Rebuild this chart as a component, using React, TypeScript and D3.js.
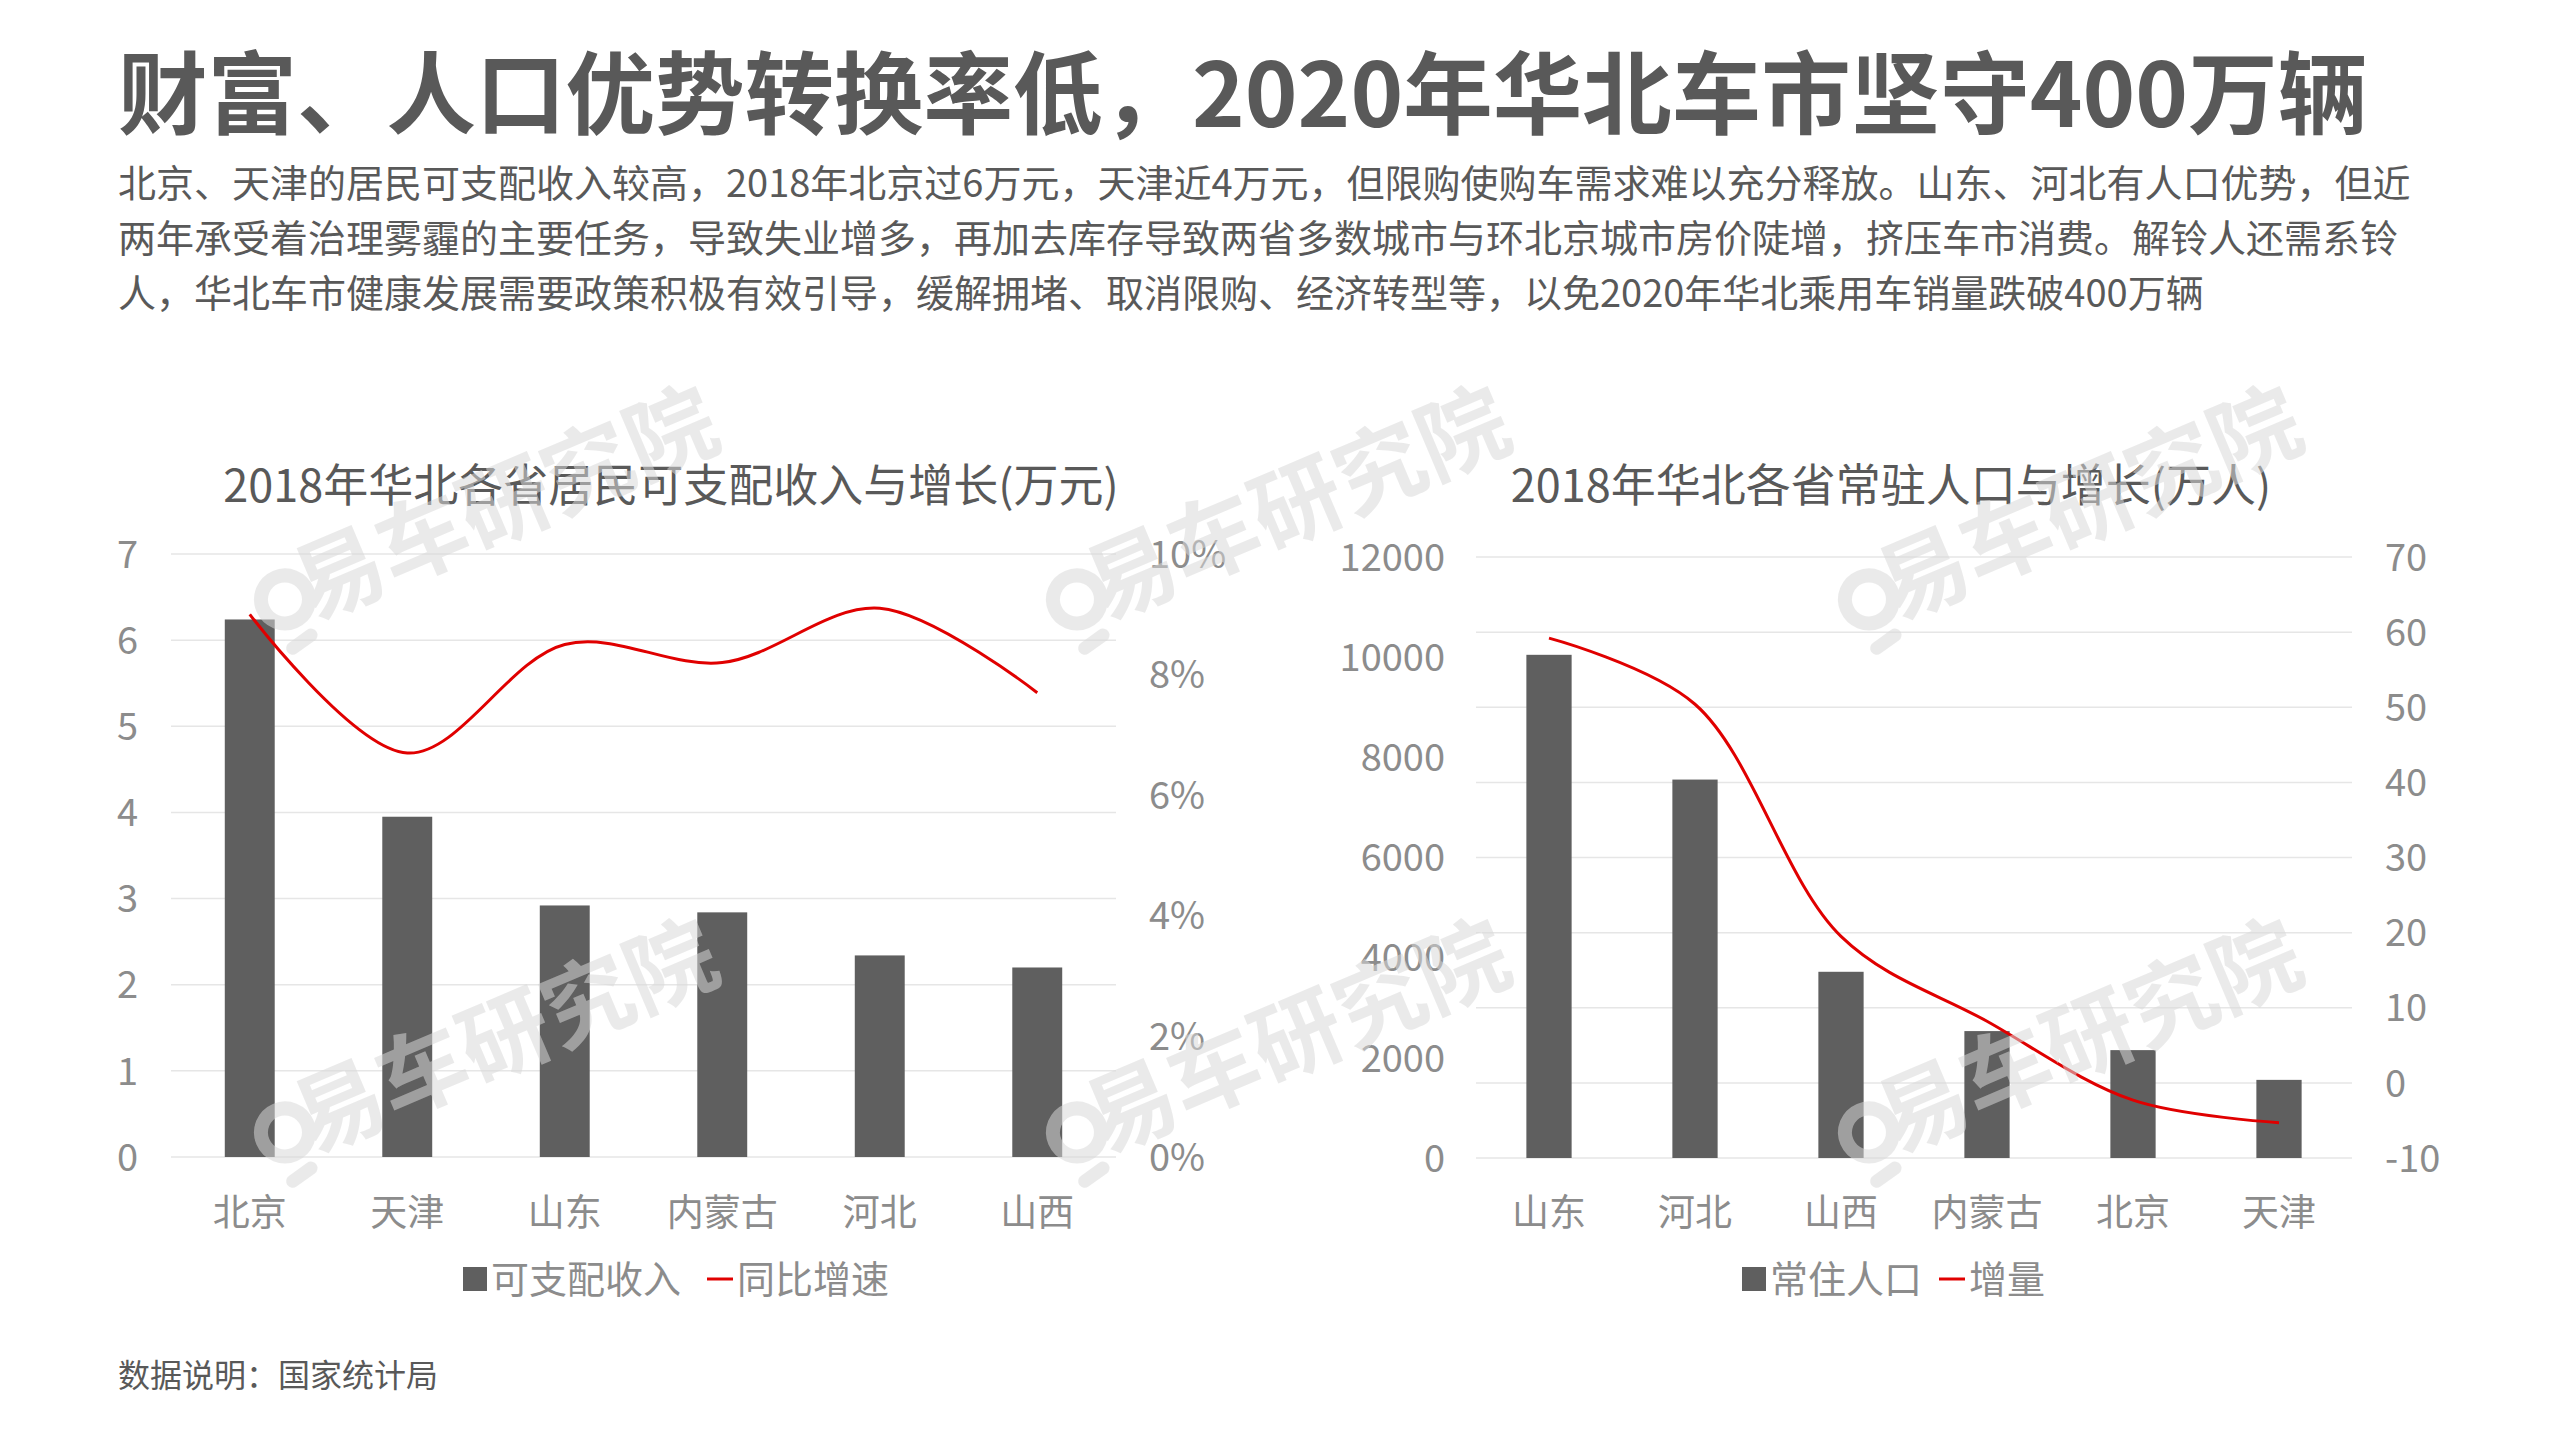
import * as d3 from 'd3';

// ---- data ----
const incomeProvinces = ['北京', '天津', '山东', '内蒙古', '河北', '山西'];
const incomeValues = [6.24, 3.95, 2.92, 2.84, 2.34, 2.2]; // 万元
const incomeGrowth = [9.0, 6.7, 8.5, 8.2, 9.1, 7.7]; // %
const incomeTicks = [0, 1, 2, 3, 4, 5, 6, 7];
const incomeGrowthTicks = [0, 2, 4, 6, 8, 10];

const popProvinces = ['山东', '河北', '山西', '内蒙古', '北京', '天津'];
const popValues = [10047, 7556, 3718, 2534, 2154, 1560]; // 万人
const popGrowth = [59.2, 50.4, 19.5, 8.2, -2.3, -5.3]; // 万人
const popTicks = [0, 2000, 4000, 6000, 8000, 10000, 12000];
const popGrowthTicks = [-10, 0, 10, 20, 30, 40, 50, 60, 70];

const paragraph = [
  '北京、天津的居民可支配收入较高，2018年北京过6万元，天津近4万元，但限购使购车需求难以充分释放。山东、河北有人口优势，但近',
  '两年承受着治理雾霾的主要任务，导致失业增多，再加去库存导致两省多数城市与环北京城市房价陡增，挤压车市消费。解铃人还需系铃',
  '人，华北车市健康发展需要政策积极有效引导，缓解拥堵、取消限购、经济转型等，以免2020年华北乘用车销量跌破400万辆',
];

const FONT = '"Noto Sans CJK SC", "Noto Sans", sans-serif';
const BAR = '#5f5f5f';
const RED = '#e00000';
const GRID = '#e6e6e6';
const TICK = '#8c8c8c';
const TEXT = '#595959';

type ChartProps = {
  title: string;
  titleX: number;
  categories: string[];
  bars: number[];
  line: number[];
  leftTicks: number[];
  rightTicks: number[];
  rightFormat: (v: number) => string;
  gridOnRight: boolean;
  x0: number;
  x1: number;
  top: number;
  bottom: number;
  leftLabelX: number;
  rightLabelX: number;
  pad: number;
  barName: string;
  lineName: string;
  legendX: number;
  legendLineX: number;
};

const ComboChart = (p: ChartProps) => {
  const x = d3.scaleBand().domain(p.categories).range([p.x0, p.x1]).paddingInner(p.pad).paddingOuter(p.pad / 2);
  const yL = d3.scaleLinear().domain(d3.extent(p.leftTicks) as [number, number]).range([p.bottom, p.top]);
  const yR = d3.scaleLinear().domain(d3.extent(p.rightTicks) as [number, number]).range([p.bottom, p.top]);
  const bw = x.bandwidth();
  const lineGen = d3
    .line<number>()
    .x((_, i) => (x(p.categories[i]) as number) + bw / 2)
    .y((d) => yR(d))
    .curve(d3.curveCatmullRom.alpha(0.5));
  // gridlines follow whichever axis Excel picked as primary
  const gridTicks = p.gridOnRight ? p.rightTicks.map(yR) : p.leftTicks.map(yL);
  const legendY = 1279;

  return (
    <g fontFamily={FONT}>
      <text x={p.titleX} y={486} dy="0.36em" textAnchor="middle" fontSize={45} fill={TEXT}>
        {p.title}
      </text>
      {gridTicks.map((gy, i) => (
        <line key={i} x1={p.x0} x2={p.x1} y1={gy} y2={gy} stroke={GRID} strokeWidth={1.5} />
      ))}
      {p.leftTicks.map((t) => (
        <text key={t} x={p.leftLabelX} y={yL(t)} dy="0.36em" textAnchor="end" fontSize={38} fill={TICK}>
          {t}
        </text>
      ))}
      {p.rightTicks.map((t) => (
        <text key={t} x={p.rightLabelX} y={yR(t)} dy="0.36em" textAnchor="start" fontSize={38} fill={TICK}>
          {p.rightFormat(t)}
        </text>
      ))}
      {p.bars.map((v, i) => (
        <rect key={i} x={x(p.categories[i])} y={yL(v)} width={bw} height={yL(0) - yL(v)} fill={BAR} />
      ))}
      <path d={lineGen(p.line) || ''} fill="none" stroke={RED} strokeWidth={3} />
      {p.categories.map((c) => (
        <text key={c} x={(x(c) as number) + bw / 2} y={1212} dy="0.38em" textAnchor="middle" fontSize={37} fill={TICK}>
          {c}
        </text>
      ))}
      <rect x={p.legendX} y={legendY - 12} width={24} height={24} fill={BAR} />
      <text x={p.legendX + 28} y={legendY} dy="0.38em" fontSize={38} fill={TICK}>
        {p.barName}
      </text>
      <line x1={p.legendLineX} x2={p.legendLineX + 26} y1={legendY} y2={legendY} stroke={RED} strokeWidth={3} />
      <text x={p.legendLineX + 30} y={legendY} dy="0.38em" fontSize={38} fill={TICK}>
        {p.lineName}
      </text>
    </g>
  );
};

// faint "易车研究院" watermark
const Watermark = ({ cx, cy }: { cx: number; cy: number }) => (
  <g transform={`translate(${cx},${cy}) rotate(-23)`} opacity={0.53} fill="#d9d9d9" stroke="#d9d9d9">
    <circle cx={-210} cy={-30} r={24} fill="none" strokeWidth={14} />
    <line x1={-222} x2={-200} y1={18} y2={13} strokeWidth={13} strokeLinecap="round" />
    <text x={30} y={0} textAnchor="middle" fontSize={90} fontWeight={700} stroke="none" fontFamily={FONT}>
      易车研究院
    </text>
  </g>
);

export default function App() {
  const marks = [
    [490, 545],
    [490, 1078],
    [1282, 545],
    [1282, 1078],
    [2074, 545],
    [2074, 1078],
  ];
  return (
    <svg
      width={2560}
      height={1440}
      style={{ position: 'absolute', left: 0, top: 0, background: '#fff' }}
      fontFamily={FONT}
    >
      <rect width={2560} height={1440} fill="#fff" />
      <text x={118} y={127} fontSize={89.5} fontWeight={700} fill={TEXT}>
        财富、人口优势转换率低，2020年华北车市坚守400万辆
      </text>
      {paragraph.map((line, i) => (
        <text key={i} x={118} y={197 + i * 55} fontSize={38} fill={TEXT}>
          {line}
        </text>
      ))}

      <ComboChart
        title="2018年华北各省居民可支配收入与增长(万元)"
        titleX={671}
        categories={incomeProvinces}
        bars={incomeValues}
        line={incomeGrowth}
        leftTicks={incomeTicks}
        rightTicks={incomeGrowthTicks}
        rightFormat={(v) => `${v}%`}
        gridOnRight={false}
        x0={171}
        x1={1116}
        top={554}
        bottom={1157}
        leftLabelX={138}
        rightLabelX={1149}
        pad={0.683}
        barName="可支配收入"
        lineName="同比增速"
        legendX={463}
        legendLineX={707}
      />
      <ComboChart
        title="2018年华北各省常驻人口与增长(万人)"
        titleX={1891}
        categories={popProvinces}
        bars={popValues}
        line={popGrowth}
        leftTicks={popTicks}
        rightTicks={popGrowthTicks}
        rightFormat={(v) => `${v}`}
        gridOnRight={true}
        x0={1476}
        x1={2352}
        top={557}
        bottom={1158}
        leftLabelX={1445}
        rightLabelX={2385}
        pad={0.69}
        barName="常住人口"
        lineName="增量"
        legendX={1742}
        legendLineX={1939}
      />

      {marks.map(([cx, cy], i) => (
        <Watermark key={i} cx={cx} cy={cy} />
      ))}

      <text x={118} y={1387} fontSize={32} fill={TEXT}>
        数据说明：国家统计局
      </text>
    </svg>
  );
}
